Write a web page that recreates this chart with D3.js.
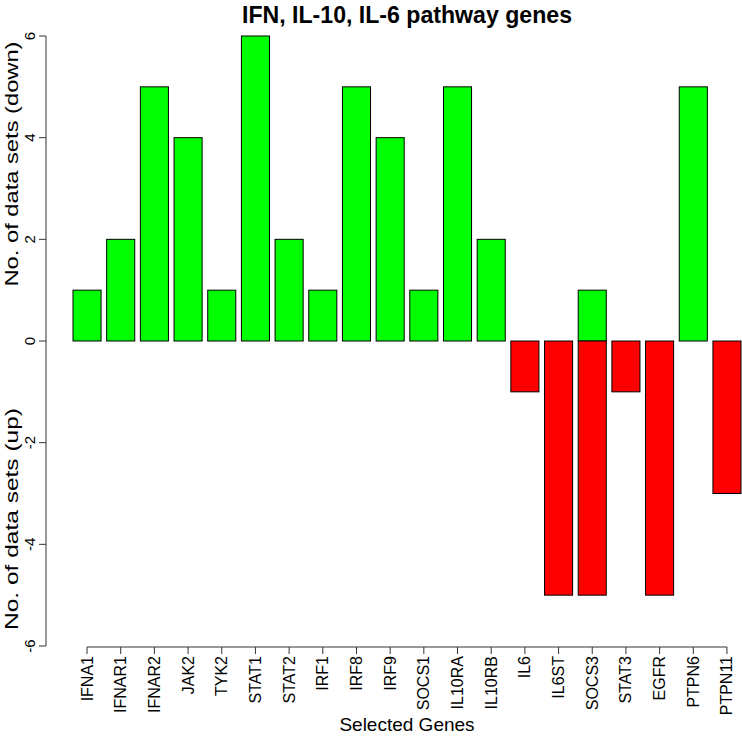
<!DOCTYPE html>
<html>
<head>
<meta charset="utf-8">
<script src="https://cdn.jsdelivr.net/npm/d3@7"></script>
<style>
  body { margin: 0; background: #fff; }
  svg text { font-family: "Liberation Sans", Arial, sans-serif; fill: #000; }
</style>
</head>
<body>
<svg id="chart" width="742" height="736"></svg>
<script>
// Genes on the x axis
var genes = ["IFNA1", "IFNAR1", "IFNAR2", "JAK2", "TYK2", "STAT1", "STAT2", "IRF1", "IRF8", "IRF9",
	"SOCS1", "IL10RA", "IL10RB", "IL6", "IL6ST", "SOCS3", "STAT3", "EGFR", "PTPN6", "PTPN11"];
// No. of data sets where the gene is down (plotted upward, green)
var downCounts = [1, 2, 5, 4, 1, 6, 2, 1, 5, 4, 1, 5, 2, 0, 0, 1, 0, 0, 5, 0];
// No. of data sets where the gene is up (plotted downward, red)
var upCounts = [0, 0, 0, 0, 0, 0, 0, 0, 0, 0, 0, 0, 0, -1, -5, -5, -1, -5, 0, -3];
var yTicks = [-6, -4, -2, 0, 2, 4, 6];

var svg = d3.select("#chart");

// scales
var x = d3.scaleBand()
	.domain(genes)
	.range([73, 741])
	.paddingInner(0.2 / 1.2)
	.paddingOuter(0);
var y = d3.scaleLinear()
	.domain([-6, 6])
	.range([646, 36]);

var axisColor = "#333";

// bars, down (green)
svg.selectAll(".bar-down")
	.data(genes.map(function(g, i) { return { gene: g, v: downCounts[i] }; }).filter(function(d) { return d.v !== 0; }))
	.enter().append("rect")
	.attr("x", function(d) { return x(d.gene); })
	.attr("width", x.bandwidth())
	.attr("y", function(d) { return y(d.v); })
	.attr("height", function(d) { return y(0) - y(d.v); })
	.attr("fill", "#00ff00")
	.attr("stroke", "#000")
	.attr("stroke-width", 1);

// bars, up (red)
svg.selectAll(".bar-up")
	.data(genes.map(function(g, i) { return { gene: g, v: upCounts[i] }; }).filter(function(d) { return d.v !== 0; }))
	.enter().append("rect")
	.attr("x", function(d) { return x(d.gene); })
	.attr("width", x.bandwidth())
	.attr("y", y(0))
	.attr("height", function(d) { return y(d.v) - y(0); })
	.attr("fill", "#ff0000")
	.attr("stroke", "#000")
	.attr("stroke-width", 1);

// y axis
var yAxis = svg.append("g").attr("transform", "translate(46,0)");
yAxis.append("line")
	.attr("x1", 0).attr("x2", 0)
	.attr("y1", y(-6)).attr("y2", y(6))
	.attr("stroke", axisColor);
yAxis.selectAll(".ytick").data(yTicks).enter().append("line")
	.attr("x1", -7).attr("x2", 0)
	.attr("y1", function(d) { return y(d); })
	.attr("y2", function(d) { return y(d); })
	.attr("stroke", axisColor);
yAxis.selectAll(".ylab").data(yTicks).enter().append("text")
	.attr("transform", function(d) { return "translate(-11," + y(d) + ") rotate(-90)"; })
	.attr("text-anchor", "middle")
	.style("font-size", "15px")
	.text(function(d) { return d; });

// x axis
var xc = function(g) { return x(g) + x.bandwidth() / 2; };
var xAxis = svg.append("g").attr("transform", "translate(0,647)");
xAxis.append("line")
	.attr("x1", xc(genes[0])).attr("x2", xc(genes[genes.length - 1]))
	.attr("y1", 0).attr("y2", 0)
	.attr("stroke", axisColor);
xAxis.selectAll(".xtick").data(genes).enter().append("line")
	.attr("x1", xc).attr("x2", xc)
	.attr("y1", 0).attr("y2", 7)
	.attr("stroke", axisColor);
xAxis.selectAll(".xlab").data(genes).enter().append("text")
	.attr("transform", function(g) { return "translate(" + (xc(g) + 5.5) + ",9) rotate(-90)"; })
	.attr("text-anchor", "end")
	.style("font-size", "16px")
	.text(function(g) { return g; });

// titles
svg.append("text")
	.attr("x", 407).attr("y", 23)
	.attr("text-anchor", "middle")
	.attr("textLength", 330)
	.attr("lengthAdjust", "spacingAndGlyphs")
	.style("font-size", "24px")
	.style("font-weight", "bold")
	.text("IFN, IL-10, IL-6 pathway genes");

svg.append("text")
	.attr("x", 407).attr("y", 731)
	.attr("text-anchor", "middle")
	.style("font-size", "19px")
	.text("Selected Genes");

svg.append("text")
	.attr("transform", "translate(18,164) rotate(-90)")
	.attr("text-anchor", "middle")
	.attr("textLength", 245)
	.attr("lengthAdjust", "spacingAndGlyphs")
	.style("font-size", "18px")
	.text("No. of data sets (down)");

svg.append("text")
	.attr("transform", "translate(18,519) rotate(-90)")
	.attr("text-anchor", "middle")
	.attr("textLength", 222)
	.attr("lengthAdjust", "spacingAndGlyphs")
	.style("font-size", "18px")
	.text("No. of data sets (up)");
</script>
</body>
</html>
